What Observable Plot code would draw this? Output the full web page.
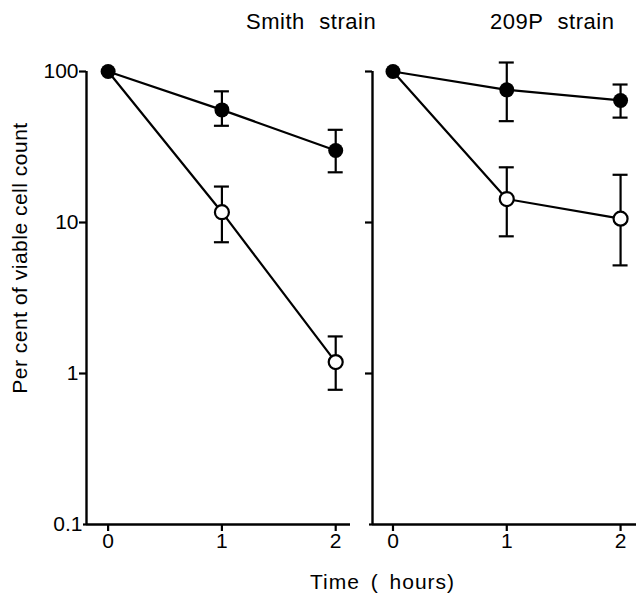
<!DOCTYPE html>
<html><head><meta charset="utf-8">
<script src="https://cdn.jsdelivr.net/npm/d3@7"></script>
<script src="https://cdn.jsdelivr.net/npm/@observablehq/plot@0.6"></script>
<style>
body{margin:0;background:#fff;}
#chart{position:relative;width:636px;height:597px;background:#fff;overflow:hidden;}
.panel{position:absolute;top:0;}
.lbl{position:absolute;white-space:nowrap;font-family:"Liberation Sans",Arial,sans-serif;color:#000;}
#t1{left:246px;top:11px;font-size:22px;line-height:22px;letter-spacing:0.5px;word-spacing:8px;}
#t2{left:490px;top:11px;font-size:22px;line-height:22px;letter-spacing:0.5px;word-spacing:8px;}
#ylab{left:19px;top:258px;font-size:21px;line-height:21px;letter-spacing:0.5px;transform:translate(-50%,-50%) rotate(-90deg);}
#xlab{left:310px;top:571px;font-size:21px;line-height:21px;letter-spacing:1px;word-spacing:4px;}
</style></head><body>
<div id="chart">
  <div class="panel" id="left"></div>
  <div class="panel" id="right"></div>
  <div class="lbl" id="t1">Smith strain</div>
  <div class="lbl" id="t2">209P strain</div>
  <div class="lbl" id="ylab">Per cent of viable cell count</div>
  <div class="lbl" id="xlab">Time ( hours)</div>
</div>
<script>
const hours = [0, 1, 2];
const xTickLabels = ["0", "1", "2"];
const yTicks = [0.1, 1, 10, 100];
const yTickLabels = ["0.1", "1", "10", "100"];

const smithFilled = [100, 55.7, 30.0];
const smithFilledLow = [null, 43.7, 21.5];
const smithFilledHigh = [null, 73.9, 41.1];
const smithOpen = [100, 11.7, 1.19];
const smithOpenLow = [null, 7.4, 0.78];
const smithOpenHigh = [null, 17.3, 1.76];

const p209Filled = [100, 75.6, 64.3];
const p209FilledLow = [null, 46.9, 49.5];
const p209FilledHigh = [null, 114.7, 82];
const p209Open = [100, 14.3, 10.6];
const p209OpenLow = [null, 8.1, 5.2];
const p209OpenHigh = [null, 23.2, 20.7];

function rows(series, values, lows, highs) {
  return hours.map((h, i) => ({series, hour: h, value: values[i], low: lows[i], high: highs[i]}));
}

function panel(s, {width, marginLeft, xDomain, labels}) {
  const filled = rows("filled", s.filled, s.filledLow, s.filledHigh);
  const open = rows("open", s.open, s.openLow, s.openHigh);
  const all = open.concat(filled);
  const err = all.filter(d => d.low != null);
  const fmt = (d) => labels ? yTickLabels[yTicks.indexOf(d)] : "";
  return Plot.plot({
    width, height: 597,
    marginTop: 71, marginBottom: 73, marginLeft, marginRight: 0,
    x: {domain: xDomain},
    y: {type: "log", domain: [yTicks[0], yTicks[yTicks.length - 1]]},
    style: {fontFamily: "Liberation Sans, Arial, sans-serif", color: "black", background: "transparent", overflow: "visible"},
    marks: [
      Plot.ruleY([yTicks[0]], {stroke: "black", strokeWidth: 2.4}),
      Plot.ruleX([xDomain[0]], {stroke: "black", strokeWidth: 2.4}),
      Plot.axisY({ticks: yTicks.slice(1), tickSize: 7, tickPadding: 1, tickFormat: fmt, fontSize: 21, strokeWidth: 2.2, label: null}),
      Plot.axisY({ticks: yTicks.slice(0, 1), tickSize: 3, tickPadding: 1, tickFormat: fmt, fontSize: 21, strokeWidth: 2.2, label: null}),
      Plot.axisX({ticks: hours, tickSize: 7, tickPadding: 2, tickFormat: (d) => xTickLabels[hours.indexOf(d)], fontSize: 21, strokeWidth: 2.2, label: null}),
      Plot.line(all, {x: "hour", y: "value", z: "series", stroke: "black", strokeWidth: 2.2}),
      Plot.ruleX(err, {x: "hour", y1: "low", y2: "high", stroke: "black", strokeWidth: 2.2}),
      Plot.ruleY(err, {y: "low", x1: "hour", x2: "hour", insetLeft: -7.5, insetRight: -7.5, stroke: "black", strokeWidth: 2.2}),
      Plot.ruleY(err, {y: "high", x1: "hour", x2: "hour", insetLeft: -7.5, insetRight: -7.5, stroke: "black", strokeWidth: 2.2}),
      Plot.dot(open.filter(d => d.hour !== hours[0]), {x: "hour", y: "value", r: 7, fill: "white", stroke: "black", strokeWidth: 2.2}),
      Plot.dot(filled, {x: "hour", y: "value", r: 7.5, fill: "black", stroke: "none"})
    ]
  });
}

const left = panel(
  {filled: smithFilled, filledLow: smithFilledLow, filledHigh: smithFilledHigh, open: smithOpen, openLow: smithOpenLow, openHigh: smithOpenHigh},
  {width: 350, marginLeft: 86, xDomain: [-0.19, 2.13], labels: true}
);
const right = panel(
  {filled: p209Filled, filledLow: p209FilledLow, filledHigh: p209FilledHigh, open: p209Open, openLow: p209OpenLow, openHigh: p209OpenHigh},
  {width: 286, marginLeft: 22, xDomain: [-0.18, 2.14], labels: false}
);
document.getElementById("left").appendChild(left);
const r = document.getElementById("right");
r.style.left = "350px";
r.appendChild(right);
</script>
</body></html>
